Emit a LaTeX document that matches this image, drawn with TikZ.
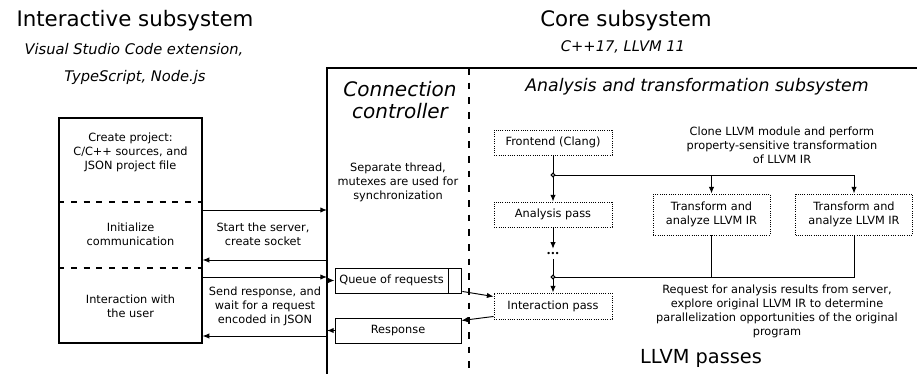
\documentclass[tikz,border=0pt]{standalone}
\usepackage{fontspec}
\setmainfont{DejaVu Sans}
\usetikzlibrary{arrows.meta,calc,positioning}
\tikzstyle{arrow} = [-{Latex[length=5pt,width=4pt]}]
\tikzstyle{txt} = [font=\fontsize{8.5pt}{10.5pt}\selectfont, align=center, inner sep=0pt]
\tikzstyle{pass} = [draw, densely dotted, txt, minimum width=88.5pt, minimum height=18.75pt]
\tikzstyle{qbox} = [draw, txt, minimum height=18.75pt]
\tikzstyle{title} = [font=\fontsize{16pt}{19pt}\selectfont, inner sep=0pt]
\tikzstyle{subtitle} = [font=\fontsize{11pt}{13pt}\selectfont\itshape, inner sep=0pt]
\tikzstyle{part} = [font=\fontsize{13pt}{16.5pt}\selectfont\itshape, align=center, inner sep=0pt]

\begin{document}
\begin{tikzpicture}[x=0.75pt,y=-0.75pt,line width=0.7pt]
\useasboundingbox (0,0) rectangle (917,374);

% headings
\node[title] (inttitle) at (135,21) {Interactive subsystem};
\node[subtitle] (inttech) at (134,50) {Visual Studio Code extension,};
\node[subtitle] (inttech2) at (135,77) {TypeScript, Node.js};
\node[title] (coretitle) at (626,21) {Core subsystem};
\node[subtitle] (coretech) at (623,47) {C++17, LLVM 11};

% client side
\node[draw, line width=0.9pt, minimum width=107.25pt, minimum height=168.75pt] (client) at (130.5,230.5) {};
\draw[dash pattern=on 4.5pt off 5pt, line width=0.9pt] (client.west |- 0,202) -- (client.east |- 0,202);
\draw[dash pattern=on 4.5pt off 5pt, line width=0.9pt] (client.west |- 0,268) -- (client.east |- 0,268);
\node[txt] (create) at (130.5,152.5) {Create project:\\C/C++ sources, and\\JSON project file};
\node[txt] (init) at (130.5,234) {Initialize\\communication};
\node[txt] (user) at (130.5,306) {Interaction with\\the user};

% connection controller frame
\coordinate (ctl) at (327,68);
\draw[line width=1.2pt] (327,374) -- (ctl) -- (917,68);
\draw[dash pattern=on 5pt off 6pt, line width=1.2pt] (469,68) -- (469,374);
\node[part, font=\fontsize{15pt}{16.5pt}\selectfont\itshape] (conn) at (400,100) {Connection\\controller};
\node[part] (ats) at (697,87) {Analysis and transformation subsystem};
\node[txt] (thread) at (398,182) {Separate thread,\\mutexes are used for\\synchronization};

% messages
\coordinate (c1) at (327,210);
\coordinate (c2) at (327,260);
\coordinate (c3) at (327,277);
\coordinate (c4) at (327,336);
\draw[arrow] (client.east |- c1) -- (c1);
\draw[arrow] (c2) -- (client.east |- c2);
\draw[arrow] (client.east |- c3) -- (c3);
\draw[arrow] (c4) -- (client.east |- c4);
\node[txt] (start) at (263,234) {Start the server,\\create socket};
\node[txt] (send) at (265,306) {Send response, and\\wait for a request\\encoded in JSON};

\node[qbox, minimum width=84.75pt] (queue) at (391.5,280.5) {Queue of requests};
\node[qbox, minimum width=9.75pt, right=0pt of queue] (queuetail) {};
\node[qbox, minimum width=94.5pt] (response) at (398,330.5) {Response};
\draw[arrow] (ctl |- queue.west) -- (queue.west);
\draw[arrow] (response.west) -- (ctl |- response.west);

% LLVM passes
\node[pass] (frontend) at (553,142.5) {Frontend (Clang)};
\node[pass] (analysis) at (553,214.5) {Analysis pass};
\node[inner sep=2pt] (dots) at (553,254) {\fontsize{6pt}{6pt}\selectfont\textbullet\kern-0.3pt\textbullet\kern-0.3pt\textbullet};
\node[pass, minimum height=19.5pt] (interact) at (553,306) {Interaction pass};
\node[pass, minimum width=87.75pt, minimum height=30.75pt] (transA) at (711.5,214.5) {Transform and\\analyze LLVM IR};
\node[pass, minimum width=87.75pt, minimum height=30.75pt] (transB) at (854,214.5) {Transform and\\analyze LLVM IR};
\coordinate (split) at (553,175);
\coordinate (join) at (553,277);

\draw[arrow] (frontend) -- (analysis);
\draw[arrow] (split) -| (transA.north);
\draw[arrow] (split) -| (transB.north);
\draw[arrow] (analysis) -- (dots);
\draw (dots) -- (join);
\draw[arrow] (join) -- (interact);
\draw (transA.south) |- (join);
\draw (transB.south) |- (join);
\draw[fill=white] (split) circle (1.4pt);
\draw[fill=white] (join) circle (1.4pt);

\draw[arrow] ($(queuetail.south east)+(0,-2)$) -- ($(interact.north west)+(0,4)$);
\draw[arrow] ($(interact.south west)+(0,-3)$) -- ($(response.north east)+(0,3)$);

\node[txt] (clone) at (782,145) {Clone LLVM module and perform\\property-sensitive transformation\\of LLVM IR};
\node[txt] (request) at (777,311.5) {Request for analysis results from server,\\explore original LLVM IR to determine\\parallelization opportunities of the original\\program};
\node[title, font=\fontsize{14.5pt}{17pt}\selectfont] (passes) at (701,358) {LLVM passes};
\end{tikzpicture}
\end{document}
